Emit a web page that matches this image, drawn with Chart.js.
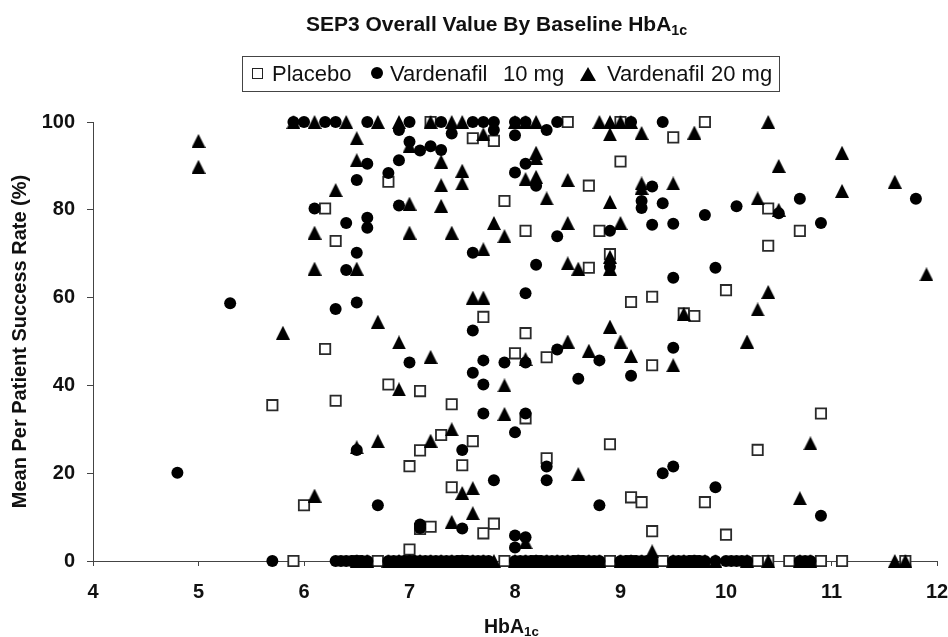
<!DOCTYPE html>
<html lang="en">

<head>
    <meta charset="UTF-8">
    <title>SEP3 Overall Value By Baseline HbA1c</title>
    <style>
        body {
            margin: 0;
            background: #fff;
            font-family: "Liberation Sans", Arial, sans-serif;
            color: #111;
        }

        .wrap {
            position: relative;
            width: 948px;
            height: 637px;
            overflow: hidden;
        }

        canvas {
            position: absolute;
            left: 0;
            top: 0;
        }

        .title, .xtitle {
            position: absolute;
            font-weight: bold;
            white-space: pre;
            line-height: 20px;
        }

        .title {
            left: 306px;
            top: 14px;
            font-size: 21px;
        }

        .xtitle {
            left: 484px;
            top: 616px;
            font-size: 19.5px;
        }

        sub {
            font-size: 0.68em;
            line-height: 0;
            vertical-align: -0.25em;
        }

        .legend {
            position: absolute;
            left: 242px;
            top: 56px;
            width: 538px;
            height: 36px;
            box-sizing: border-box;
            border: 1px solid #444;
            font-size: 22px;
        }

        .legend span {
            position: absolute;
            top: 5px;
            line-height: 24px;
            white-space: pre;
        }

        .legend i {
            position: absolute;
            display: block;
        }

        .sq { left: 9px; top: 11px; width: 9px; height: 9px; border: 1.5px solid #222; }
        .ci { left: 128px; top: 10px; width: 12px; height: 12px; border-radius: 50%; background: #000; }
        .tr { left: 337px; top: 10px; width: 0; height: 0; border-left: 8px solid transparent; border-right: 8px solid transparent; border-bottom: 14px solid #000; }
    </style>
    <script src="https://cdn.jsdelivr.net/npm/chart.js"></script>
</head>

<body>

    <div class="wrap">
        <canvas id="chart" width="948" height="637"></canvas>
        <div class="title">SEP3 Overall Value By Baseline HbA<sub>1c</sub></div>
        <div class="legend">
            <i class="sq"></i><span style="left:29px">Placebo</span>
            <i class="ci"></i><span style="left:147px">Vardenafil</span><span style="left:260px">10 mg</span>
            <i class="tr"></i><span style="left:364px">Vardenafil</span><span style="left:468px">20 mg</span>
        </div>
        <div class="xtitle">HbA<sub>1c</sub></div>
    </div>

    <script>
        const xTicks = [4, 5, 6, 7, 8, 9, 10, 11, 12];
        const yTicks = [0, 20, 40, 60, 80, 100];

        // hba1c / success rate pairs in the same order
        const placeboX = [7.2, 8.5, 9.0, 9.8, 7.6, 7.8, 9.5, 9.0, 6.8, 7.9, 8.7, 6.2, 8.1, 8.8, 10.4, 10.7, 10.4, 6.3, 8.7, 8.9, 9.1, 9.3, 10.0, 9.6, 9.7, 7.7, 8.1, 8.0, 8.3, 6.2, 6.8, 7.1, 5.7, 6.3, 7.4, 8.1, 9.3, 7.6, 7.3, 7.1, 8.9, 10.9, 10.3, 7.0, 7.5, 8.3, 7.4, 6.0, 9.1, 9.2, 9.8, 9.3, 10.0, 7.1, 7.2, 7.8, 7.7, 7.0];
        const placeboY = [100, 100, 100, 100, 96.3, 95.7, 96.5, 91, 86.4, 82, 85.5, 80.3, 75.2, 75.2, 80.3, 75.2, 71.8, 72.9, 66.8, 69.9, 59, 60.2, 61.7, 56.4, 55.8, 55.6, 51.9, 47.3, 46.4, 48.3, 40.2, 38.7, 35.5, 36.5, 35.7, 32.5, 44.6, 27.3, 28.7, 25.2, 26.6, 33.6, 25.3, 21.6, 21.8, 23.4, 16.8, 12.7, 14.5, 13.4, 13.4, 6.8, 6, 7.3, 7.8, 8.5, 6.3, 2.6];
        const placeboZeroX = [5.9, 6.7, 7.9, 8.9, 9.4, 10.3, 10.4, 10.6, 10.9, 11.1, 11.7, 6.5, 7.0, 7.5, 8.2, 8.6, 9.1, 9.7];

        const mg10X = [5.9, 6.0, 6.2, 6.3, 6.6, 7.0, 7.3, 7.6, 7.7, 7.8, 8.0, 8.1, 8.4, 9.1, 9.4, 6.9, 7.4, 7.8, 8.0, 8.3, 7.0, 7.1, 7.2, 7.3, 6.6, 6.9, 6.8, 6.5, 8.1, 8.0, 8.2, 9.3, 9.2, 9.2, 9.4, 6.1, 6.9, 6.4, 6.6, 6.6, 6.5, 7.6, 6.4, 8.4, 8.9, 9.3, 9.5, 9.8, 10.1, 10.5, 10.7, 10.9, 11.8, 8.2, 8.9, 9.5, 9.9, 8.1, 5.3, 6.3, 6.5, 7.6, 7.0, 7.7, 7.9, 8.1, 8.4, 8.8, 8.6, 9.1, 9.5, 7.6, 7.7, 7.7, 8.1, 8.0, 6.5, 7.5, 8.3, 8.3, 7.8, 8.8, 9.4, 9.5, 9.9, 10.9, 4.8, 6.7, 7.1, 7.1, 7.5, 8.0, 8.1, 8.0];
        const mg10Y = [100, 100, 100, 100, 100, 100, 100, 100, 100, 100, 100, 100, 100, 100, 100, 98.2, 97.4, 98.2, 97, 98.2, 95.5, 93.5, 94.5, 93.6, 90.5, 91.3, 88.4, 86.8, 90.5, 88.5, 85.5, 85.3, 82, 80.4, 81.5, 80.3, 81, 77, 78.2, 75.9, 70.2, 70.2, 66.3, 74, 75.2, 76.6, 76.8, 78.8, 80.8, 79.2, 82.5, 77, 82.5, 67.5, 67, 64.5, 66.8, 61, 58.7, 57.4, 58.9, 52.5, 45.2, 45.7, 45.2, 45.2, 48.2, 45.7, 41.5, 42.2, 48.6, 42.9, 40.2, 33.6, 33.6, 29.3, 25.3, 25.3, 21.5, 18.4, 18.4, 12.7, 20, 21.5, 16.8, 10.3, 20.1, 12.7, 8.3, 7.5, 7.4, 5.8, 5.4, 3.1];
        const mg10ZeroX = [5.7, 6.3, 6.35, 6.4, 6.45, 6.5, 6.55, 6.6, 6.8, 6.85, 6.9, 6.95, 7.0, 7.05, 7.1, 7.15, 7.2, 7.25, 7.3, 7.35, 7.4, 7.45, 7.5, 7.55, 7.6, 7.65, 7.7, 7.75, 8.0, 8.05, 8.1, 8.15, 8.2, 8.25, 8.3, 8.35, 8.4, 8.45, 8.5, 8.55, 8.6, 8.65, 8.7, 8.75, 8.8, 9.0, 9.05, 9.1, 9.15, 9.2, 9.25, 9.3, 9.5, 9.55, 9.6, 9.65, 9.7, 9.75, 9.8, 9.9, 10.0, 10.05, 10.1, 10.15, 10.2, 10.7, 10.75, 10.8];

        const mg20X = [5.9, 6.1, 6.4, 6.7, 6.9, 7.2, 7.4, 7.5, 8.0, 8.1, 8.2, 8.8, 8.9, 9.0, 9.1, 10.4, 5.0, 5.0, 6.5, 7.0, 7.7, 6.5, 7.3, 7.5, 7.5, 7.3, 6.3, 7.0, 7.3, 7.8, 7.9, 6.1, 7.0, 7.4, 7.7, 6.1, 6.5, 8.9, 9.2, 9.7, 8.2, 8.2, 8.1, 8.2, 8.5, 9.2, 9.2, 9.5, 8.3, 8.9, 8.5, 9.0, 10.3, 10.5, 11.1, 10.5, 11.1, 11.6, 11.9, 8.5, 8.6, 8.9, 8.9, 10.4, 10.3, 9.6, 8.9, 10.2, 8.5, 9.0, 8.7, 9.1, 8.1, 9.5, 7.9, 7.9, 10.8, 7.6, 7.7, 5.8, 6.7, 6.9, 7.2, 6.9, 7.4, 7.2, 6.7, 6.5, 6.1, 7.5, 7.6, 7.6, 7.4, 8.6, 10.7, 9.3, 8.1];
        const mg20Y = [100, 100, 100, 100, 100, 100, 100, 100, 100, 100, 100, 100, 100, 100, 100, 100, 95.7, 89.8, 96.3, 94.5, 97.2, 91.3, 91, 88.9, 86, 85.6, 84.5, 81.4, 80.9, 77, 74, 74.8, 74.8, 74.8, 71, 66.6, 66.6, 97.2, 97.5, 97.6, 93, 91.7, 87, 87.5, 86.8, 86, 85, 86, 82.6, 81.8, 77, 77, 82.6, 80, 93, 90, 84.3, 86.4, 65.3, 67.8, 66.6, 69.3, 66.6, 61.3, 57.3, 56.3, 53.4, 50, 50, 50, 47.9, 46.7, 46, 44.6, 40, 33.5, 26.8, 60, 60, 52, 54.5, 49.8, 46.5, 39.1, 30, 27.4, 27.3, 25.9, 14.9, 15.5, 16.6, 10.9, 8.9, 19.8, 14.3, 2.2, 4.3];
        const mg20ZeroX = [6.5, 6.6, 6.8, 6.9, 7.0, 7.1, 7.2, 7.3, 7.4, 7.5, 7.6, 7.7, 7.8, 8.0, 8.1, 8.2, 8.3, 8.4, 8.5, 8.6, 8.7, 8.8, 9.0, 9.1, 9.2, 9.3, 9.5, 9.6, 9.7, 9.8, 9.9, 10.2, 10.4, 10.7, 10.8, 11.6, 11.7];

        function toPoints(xs, ys, zeroXs) {
            const points = xs.map((x, i) => ({ x: x, y: ys[i] }));
            zeroXs.forEach(x => points.push({ x: x, y: 0 }));
            return points;
        }

        // chart.js triangle is flatter and sits off centre, the original marker is 14 x 14
        function triangleMarker() {
            const c = document.createElement('canvas');
            c.width = 14;
            c.height = 14;
            const ctx = c.getContext('2d');
            ctx.fillStyle = '#000';
            ctx.beginPath();
            ctx.moveTo(7, 0);
            ctx.lineTo(14, 14);
            ctx.lineTo(0, 14);
            ctx.closePath();
            ctx.fill();
            return c;
        }

        const tickFont = { family: '"Liberation Sans"', size: 20, weight: 'bold' };

        new Chart(document.getElementById('chart').getContext('2d'), {
            type: 'scatter',
            data: {
                datasets: [
                    {
                        label: 'Placebo',
                        data: toPoints(placeboX, placeboY, placeboZeroX),
                        order: 3,
                        pointStyle: 'rect',
                        pointRadius: 7.3,
                        pointBorderWidth: 1.8,
                        pointBorderColor: '#2a2a2a',
                        pointBackgroundColor: '#fff',
                        clip: false
                    },
                    {
                        label: 'Vardenafil 10 mg',
                        data: toPoints(mg10X, mg10Y, mg10ZeroX),
                        order: 2,
                        pointStyle: 'circle',
                        pointRadius: 6,
                        pointBorderWidth: 0,
                        pointBackgroundColor: '#000',
                        clip: false
                    },
                    {
                        label: 'Vardenafil 20 mg',
                        data: toPoints(mg20X, mg20Y, mg20ZeroX),
                        order: 1,
                        pointStyle: triangleMarker(),
                        pointRadius: 7,
                        clip: false
                    }
                ]
            },
            options: {
                responsive: false,
                animation: false,
                layout: { padding: { left: 8, right: 11, top: 122, bottom: 36 } },
                plugins: {
                    legend: { display: false },
                    title: { display: false },
                    tooltip: { enabled: false }
                },
                scales: {
                    x: {
                        type: 'linear',
                        min: xTicks[0],
                        max: xTicks[xTicks.length - 1],
                        afterBuildTicks: scale => { scale.ticks = xTicks.map(v => ({ value: v })); },
                        afterFit: scale => {
                            scale.height = 40;
                            // stop the "12" label from pulling the plot in from the right
                            scale.paddingLeft = 0;
                            scale.paddingRight = 0;
                        },
                        grid: { drawOnChartArea: false, tickLength: 5, color: '#444' },
                        border: { color: '#444', width: 1 },
                        ticks: {
                            autoSkip: false,
                            maxRotation: 0,
                            padding: 14,
                            color: '#111',
                            font: tickFont
                        }
                    },
                    y: {
                        min: yTicks[0],
                        max: yTicks[yTicks.length - 1],
                        afterBuildTicks: scale => { scale.ticks = yTicks.map(v => ({ value: v })); },
                        afterFit: scale => { scale.width = 85; },
                        grid: { drawOnChartArea: false, tickLength: 6, color: '#444' },
                        border: { color: '#444', width: 1 },
                        title: {
                            display: true,
                            text: 'Mean Per Patient Success Rate (%)',
                            color: '#111',
                            padding: 0,
                            font: { family: '"Liberation Sans"', size: 20, weight: 'bold' }
                        },
                        ticks: {
                            autoSkip: false,
                            padding: 12,
                            color: '#111',
                            font: tickFont
                        }
                    }
                }
            }
        });
    </script>

</body>

</html>
